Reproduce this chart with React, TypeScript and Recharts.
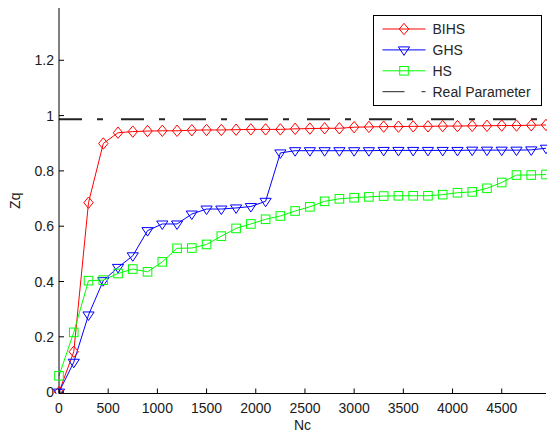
import { LineChart, Line, XAxis, YAxis, ReferenceLine, Legend } from "recharts";

// Nc values (x), one marker every 150
const NC = [
  0, 150, 300, 450, 600, 750, 900, 1050, 1200, 1350, 1500, 1650, 1800, 1950, 2100, 2250, 2400,
  2550, 2700, 2850, 3000, 3150, 3300, 3450, 3600, 3750, 3900, 4050, 4200, 4350, 4500, 4650, 4800, 4950,
];

const BIHS = [
  0, 0.146, 0.685, 0.899, 0.938, 0.942, 0.944, 0.945, 0.945, 0.947, 0.948, 0.948, 0.949, 0.95, 0.95,
  0.95, 0.952, 0.953, 0.954, 0.954, 0.958, 0.959, 0.96, 0.96, 0.961, 0.961, 0.962, 0.962, 0.963,
  0.963, 0.964, 0.964, 0.965, 0.966,
];

const GHS = [
  0, 0.108, 0.279, 0.403, 0.451, 0.493, 0.584, 0.608, 0.608, 0.644, 0.662, 0.662, 0.666, 0.671, 0.69,
  0.865, 0.873, 0.873, 0.873, 0.873, 0.873, 0.873, 0.874, 0.874, 0.874, 0.874, 0.874, 0.874, 0.875,
  0.875, 0.875, 0.875, 0.876, 0.882,
];

const HS = [
  0.059, 0.216, 0.403, 0.405, 0.429, 0.445, 0.435, 0.471, 0.52, 0.521, 0.534, 0.564, 0.592, 0.608,
  0.625, 0.637, 0.655, 0.67, 0.69, 0.699, 0.703, 0.706, 0.709, 0.71, 0.71, 0.71, 0.714, 0.721, 0.724,
  0.737, 0.758, 0.785, 0.785, 0.787,
];

const REAL_PARAMETER = 0.987;

const X_TICKS = [0, 500, 1000, 1500, 2000, 2500, 3000, 3500, 4000, 4500];
const Y_TICKS = [0, 0.2, 0.4, 0.6, 0.8, 1, 1.2];

const data = NC.map((nc, i) => ({ nc, bihs: BIHS[i], ghs: GHS[i], hs: HS[i] }));

const FONT = '"Liberation Sans", Arial, Helvetica, sans-serif';
const TEXT = "#1a1a1a";
const RED = "#ff0000";
const BLUE = "#0000ff";
const GREEN = "#00ff00";
const DASH = "23 15 6 18";

// markers (MATLAB-like, unfilled)
const Diamond = ({ cx, cy }: { cx: number; cy: number }) => (
  <polygon
    points={`${cx},${cy - 5.7} ${cx + 4.7},${cy} ${cx},${cy + 5.7} ${cx - 4.7},${cy}`}
    fill="none"
    stroke={RED}
    strokeWidth={1}
  />
);

const TriangleDown = ({ cx, cy }: { cx: number; cy: number }) => (
  <polygon
    points={`${cx - 5.6},${cy - 3} ${cx + 5.6},${cy - 3} ${cx},${cy + 5.5}`}
    fill="none"
    stroke={BLUE}
    strokeWidth={1}
  />
);

const Square = ({ cx, cy }: { cx: number; cy: number }) => (
  <rect x={cx - 4.3} y={cy - 4.3} width={8.6} height={8.6} fill="none" stroke={GREEN} strokeWidth={1} />
);

// inward ticks
const BottomTick = (props: any) => {
  const { x, y, payload } = props;
  return (
    <g>
      <line x1={x} y1={y} x2={x} y2={y - 5} stroke="#000" />
      <text x={x} y={y + 19} textAnchor="middle" fontSize={14} fontFamily={FONT} fill={TEXT}>
        {payload.value}
      </text>
    </g>
  );
};

const LeftTick = (props: any) => {
  const { x, y, payload } = props;
  return (
    <g>
      <line x1={x} y1={y} x2={x + 5} y2={y} stroke="#000" />
      <text x={x - 5} y={y + 5} textAnchor="end" fontSize={14} fontFamily={FONT} fill={TEXT}>
        {payload.value}
      </text>
    </g>
  );
};

const TopTick = (props: any) => {
  const { x, y } = props;
  return <line x1={x} y1={y} x2={x} y2={y + 5} stroke="#000" />;
};

const RightTick = (props: any) => {
  const { x, y } = props;
  return <line x1={x} y1={y} x2={x - 5} y2={y} stroke="#000" />;
};

const YLabel = (props: any) => {
  const { viewBox } = props;
  const cx = viewBox.x + 15;
  const cy = viewBox.y + viewBox.height / 2;
  return (
    <text
      x={cx}
      y={cy}
      transform={`rotate(-90, ${cx}, ${cy})`}
      textAnchor="middle"
      dominantBaseline="central"
      fontSize={14}
      fontFamily={FONT}
      fill={TEXT}
    >
      Zq
    </text>
  );
};

const XLabel = (props: any) => {
  const { viewBox } = props;
  return (
    <text
      x={viewBox.x + viewBox.width / 2}
      y={viewBox.y + 36.5}
      textAnchor="middle"
      fontSize={14}
      fontFamily={FONT}
      fill={TEXT}
    >
      Nc
    </text>
  );
};

const LEGEND_ROWS = [
  { name: "BIHS", color: RED, marker: "diamond" },
  { name: "GHS", color: BLUE, marker: "triangle" },
  { name: "HS", color: GREEN, marker: "square" },
  { name: "Real Parameter", color: "#222", marker: "none" },
];

const LegendBox = () => (
  <svg width={170} height={92} style={{ display: "block" }}>
    <rect x={0.5} y={0.5} width={168} height={90} fill="#fff" stroke="#000" />
    {LEGEND_ROWS.map((row, i) => {
      const y = 14 + i * 20.9;
      return (
        <g key={row.name}>
          {row.marker === "none" ? (
            <g stroke={row.color} strokeWidth={1}>
              <line x1={9.5} y1={y} x2={31.5} y2={y} />
              <line x1={48.5} y1={y} x2={52.5} y2={y} />
            </g>
          ) : (
            <line x1={9.5} y1={y} x2={52.5} y2={y} stroke={row.color} strokeWidth={1} />
          )}
          {row.marker === "diamond" && <Diamond cx={31} cy={y} />}
          {row.marker === "triangle" && <TriangleDown cx={31} cy={y} />}
          {row.marker === "square" && <Square cx={31} cy={y} />}
          <text x={59.5} y={y + 5} fontSize={14} fontFamily={FONT} fill="#262626">
            {row.name}
          </text>
        </g>
      );
    })}
  </svg>
);

export default function App() {
  return (
    <div style={{ position: "absolute", left: 0, top: 0, background: "#fff" }}>
      <LineChart
        width={547}
        height={436}
        data={data}
        margin={{ top: 8, right: 1, bottom: 0, left: 0 }}
        style={{ fontFamily: FONT }}
      >
        <XAxis
          dataKey="nc"
          type="number"
          domain={[0, 4950]}
          ticks={X_TICKS}
          height={42.5}
          tickSize={0}
          tickMargin={0}
          tickLine={false}
          tick={<BottomTick />}
          axisLine={{ stroke: "#000" }}
          label={<XLabel />}
        />
        <XAxis
          xAxisId="top"
          orientation="top"
          type="number"
          domain={[0, 4950]}
          ticks={X_TICKS}
          height={0}
          tickSize={0}
          tickMargin={0}
          tickLine={false}
          tick={<TopTick />}
          axisLine={{ stroke: "#000" }}
        />
        <YAxis
          type="number"
          domain={[-0.005, 1.389]}
          ticks={Y_TICKS}
          width={59}
          tickSize={0}
          tickMargin={0}
          tickLine={false}
          tick={<LeftTick />}
          axisLine={{ stroke: "#000" }}
          allowDataOverflow
          label={<YLabel />}
        />
        <YAxis
          yAxisId="right"
          orientation="right"
          type="number"
          domain={[-0.005, 1.389]}
          ticks={Y_TICKS}
          width={0}
          tickSize={0}
          tickMargin={0}
          tickLine={false}
          tick={<RightTick />}
          axisLine={{ stroke: "#000" }}
          allowDataOverflow
        />
        <Line
          type="linear"
          dataKey="bihs"
          name="BIHS"
          stroke={RED}
          strokeWidth={1}
          dot={(p: any) => <Diamond key={`d${p.index}`} cx={p.cx} cy={p.cy} />}
          activeDot={false}
          isAnimationActive={false}
        />
        <Line
          type="linear"
          dataKey="ghs"
          name="GHS"
          stroke={BLUE}
          strokeWidth={1}
          dot={(p: any) => <TriangleDown key={`t${p.index}`} cx={p.cx} cy={p.cy} />}
          activeDot={false}
          isAnimationActive={false}
        />
        <Line
          type="linear"
          dataKey="hs"
          name="HS"
          stroke={GREEN}
          strokeWidth={1}
          dot={(p: any) => <Square key={`s${p.index}`} cx={p.cx} cy={p.cy} />}
          activeDot={false}
          isAnimationActive={false}
        />
        <ReferenceLine y={REAL_PARAMETER} stroke="#222" strokeWidth={2} strokeDasharray={DASH} />
        <Legend
          layout="vertical"
          align="center"
          verticalAlign="middle"
          content={() => <LegendBox />}
          wrapperStyle={{ left: 373, top: 15, width: 170, height: 92 }}
        />
      </LineChart>
    </div>
  );
}
